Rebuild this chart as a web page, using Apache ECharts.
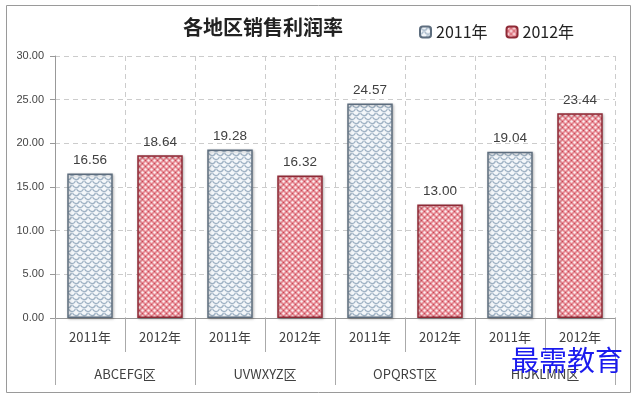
<!DOCTYPE html>
<html><head><meta charset="utf-8">
<script src="https://cdn.jsdelivr.net/npm/echarts@6/dist/echarts.min.js"></script>
<style>html,body{margin:0;padding:0;background:#fff}#c{width:633px;height:393px}</style>
</head><body><div id="c"></div>
<script>
const titleText = '各地区销售利润率';
const regions = ['ABCEFG区', 'UVWXYZ区', 'OPQRST区', 'HIJKLMN区'];
const years = ['2011年', '2012年'];
const values2011 = [16.56, 19.28, 24.57, 19.04];
const values2012 = [18.64, 16.32, 13.00, 23.44];
const yTicks = [0, 5, 10, 15, 20, 25, 30];

function pat2011() {
  const c = document.createElement('canvas'); c.width = 8; c.height = 8;
  const g = c.getContext('2d');
  g.fillStyle = '#f4f7fa'; g.fillRect(0, 0, 8, 8);
  g.strokeStyle = '#9fb2c4'; g.lineWidth = 1.2;
  g.beginPath(); g.arc(4, 0, 3.5, 0.2, Math.PI - 0.2); g.stroke();
  g.beginPath(); g.arc(0, 4, 3.5, 0.2, Math.PI - 0.2); g.stroke();
  g.beginPath(); g.arc(8, 4, 3.5, 0.2, Math.PI - 0.2); g.stroke();
  return c;
}
function pat2012() {
  const c = document.createElement('canvas'); c.width = 6; c.height = 6;
  const g = c.getContext('2d');
  g.fillStyle = '#e4848e'; g.fillRect(0, 0, 6, 6);
  g.fillStyle = '#fdeef0';
  g.beginPath(); g.arc(1.5, 1.5, 1.25, 0, Math.PI * 2); g.fill();
  g.beginPath(); g.arc(4.5, 4.5, 1.25, 0, Math.PI * 2); g.fill();
  g.fillStyle = '#c54a58';
  g.fillRect(4, 1, 1, 1); g.fillRect(1, 4, 1, 1);
  return c;
}

const cats = [];
const s2011 = [], s2012 = [];
regions.forEach((r, i) => {
  cats.push(years[0]); cats.push(years[1]);
  s2011.push(values2011[i], '-');
  s2012.push('-', values2012[i]);
});

const chart = echarts.init(document.getElementById('c'));
const lbl = { show: true, position: 'top', distance: 6, color: '#404040', fontSize: 13.5,
  fontFamily: 'Liberation Sans, Arial, sans-serif', formatter: p => Number(p.value).toFixed(2) };
chart.setOption({
  animation: false,
  title: { text: titleText, left: 258, top: 12, textAlign: 'center',
    textStyle: { fontSize: 20, fontWeight: 'bold', color: '#222', fontFamily: 'Noto Sans CJK SC' } },
  legend: { data: years, left: 414, top: 19, itemWidth: 11, itemHeight: 11, itemGap: 18,
    textStyle: { fontSize: 16, color: '#222', fontFamily: 'Noto Sans CJK SC' } },
  grid: { left: 55, right: 18, top: 56, bottom: 75 },
  xAxis: [
    { type: 'category', data: cats, position: 'bottom',
      axisLine: { lineStyle: { color: '#999' } },
      axisTick: { show: true, length: 34, interval: 0, lineStyle: { color: '#aaa' } },
      axisLabel: { interval: 0, margin: 13, fontSize: 13, color: '#404040', fontFamily: 'Noto Sans CJK SC' },
      splitLine: { show: true, interval: 0, lineStyle: { color: '#ccc', type: [5, 4] } } },
    { type: 'category', data: regions, position: 'bottom', offset: 0,
      axisLine: { show: false },
      axisTick: { show: true, length: 67, interval: 0, lineStyle: { color: '#aaa' } },
      axisLabel: { interval: 0, margin: 50, fontSize: 13, color: '#404040', fontFamily: 'Noto Sans CJK SC' } }
  ],
  yAxis: { type: 'value', min: yTicks[0], max: yTicks[yTicks.length - 1], interval: 5,
    axisLine: { show: true, lineStyle: { color: '#999' } },
    axisTick: { show: true, length: 5, lineStyle: { color: '#999' } },
    axisLabel: { margin: 11, fontSize: 11, color: '#444', fontFamily: 'Liberation Sans, Arial, sans-serif',
      formatter: v => v.toFixed(2) },
    splitLine: { lineStyle: { color: '#ccc', type: [5, 4] } } },
  series: [
    { name: years[0], type: 'bar', stack: 'a', barWidth: '65%', data: s2011, label: lbl,
      itemStyle: { color: { image: pat2011(), repetition: 'repeat' }, borderColor: '#5d6d7e', borderWidth: 1.5,
        shadowColor: 'rgba(0,0,0,0.25)', shadowBlur: 3, shadowOffsetX: 1, shadowOffsetY: 1 } },
    { name: years[1], type: 'bar', stack: 'a', barWidth: '65%', data: s2012, label: lbl,
      itemStyle: { color: { image: pat2012(), repetition: 'repeat' }, borderColor: '#8e2a36', borderWidth: 1.5,
        shadowColor: 'rgba(0,0,0,0.25)', shadowBlur: 3, shadowOffsetX: 1, shadowOffsetY: 1 } }
  ],
  graphic: [
    { type: 'rect', left: 4, top: 3, shape: { width: 624, height: 387 }, silent: true, z: -10,
      style: { fill: 'none', stroke: '#9a9a9a', lineWidth: 1 } },
    { type: 'text', left: 511, top: 346, silent: true, z: 100,
      style: { text: '最需教育', fontSize: 28, fill: '#1a1aee', fontFamily: 'Noto Sans CJK SC' } }
  ]
});
</script></body></html>
